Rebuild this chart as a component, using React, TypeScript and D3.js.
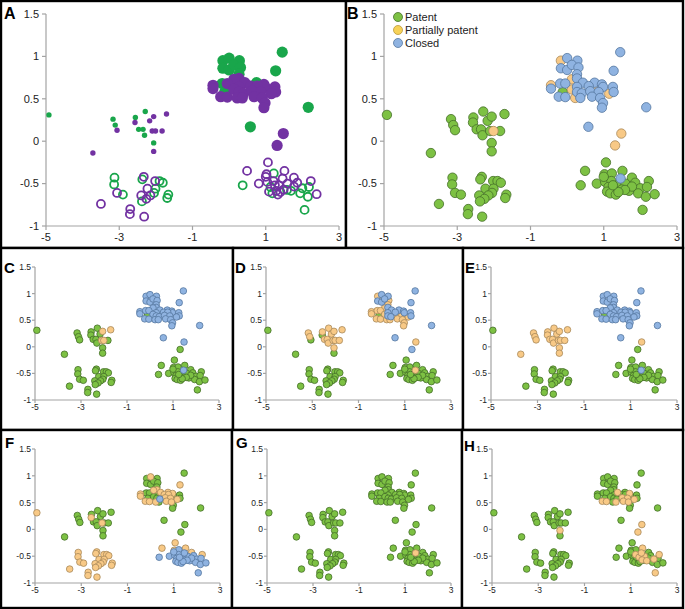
import React from 'react';
import * as d3 from 'd3';

type Row = [number, number, string, string];

// [x, y, panel-A group (g = green, p = purple), status in panels B..H (P patent, T partially patent, C closed)]
const upperLeft: Row[] = [
  [-4.92, 0.31, 'g', 'PPPPTPP'],
  [-3.72, -0.14, 'p', 'PPPTPPP'],
  [-3.17, 0.26, 'g', 'PPTTPPP'],
  [-3.11, 0.19, 'g', 'PPTTPPP'],
  [-3.06, 0.13, 'p', 'PPPTPPP'],
  [-2.29, 0.35, 'g', 'PPTTPPP'],
  [-2.56, 0.28, 'g', 'PPTTPPP'],
  [-2.57, 0.22, 'p', 'PPPTTPP'],
  [-2.47, 0.14, 'g', 'PPTTPPP'],
  [-2.35, 0.14, 'g', 'PPTTPPP'],
  [-2.31, 0.07, 'g', 'PPTTPPP'],
  [-2.17, 0.24, 'p', 'PPTTPPP'],
  [-2.06, 0.29, 'p', 'PTTTPPP'],
  [-1.71, 0.32, 'p', 'PTTTPPP'],
  [-2.1, 0.12, 'p', 'PTTTTPP'],
  [-2.01, 0.12, 'p', 'TTTTPPP'],
  [-1.83, 0.12, 'p', 'PPTTPPP'],
  [-2.06, -0.02, 'g', 'PPTTPPT'],
  [-2.06, -0.12, 'p', 'PPPTPPP'],
];

const lowerLeft: Row[] = [
  [-3.13, -0.43, 'g', 'PPPPTPP'],
  [-3.14, -0.51, 'g', 'PPPPTPP'],
  [-3.06, -0.61, 'p', 'PPPPTPP'],
  [-2.9, -0.63, 'g', 'PPPPTPP'],
  [-3.5, -0.74, 'p', 'PPPPTPP'],
  [-2.7, -0.8, 'p', 'PPPPTPP'],
  [-2.71, -0.86, 'p', 'PPPPTPP'],
  [-2.32, -0.89, 'p', 'PPPPTPP'],
  [-2.33, -0.42, 'p', 'PPPPTPP'],
  [-2.37, -0.45, 'g', 'PPPPTPP'],
  [-2.02, -0.47, 'p', 'PPPPTPP'],
  [-1.9, -0.47, 'g', 'PPPPTPP'],
  [-1.81, -0.49, 'g', 'PPPPTPP'],
  [-2.23, -0.56, 'p', 'PPPPTPP'],
  [-2.01, -0.56, 'g', 'PPPPTPP'],
  [-2.05, -0.61, 'g', 'PPPPTPP'],
  [-2.4, -0.64, 'p', 'PPPPTPP'],
  [-2.15, -0.64, 'p', 'PPPPTPP'],
  [-2.26, -0.68, 'p', 'PPPPTPP'],
  [-2.38, -0.71, 'g', 'PPPPTPP'],
  [-1.66, -0.63, 'g', 'PPPPTPP'],
  [-1.69, -0.67, 'g', 'PPPPTPP'],
];

const upperRight: Row[] = [
  [1.45, 1.05, 'g', 'CCCCPPP'],
  [1.27, 0.83, 'g', 'CCCCTPP'],
  [2.16, 0.4, 'g', 'CCCCPPP'],
  [0.58, 0.17, 'g', 'CCCCPPP'],
  [1.48, 0.09, 'p', 'TCTTPPT'],
  [1.31, -0.05, 'p', 'TPCPPPT'],
  [-0.17, 0.95, 'g', 'TCTCPPP'],
  [0.0, 0.98, 'g', 'CCCCTPP'],
  [0.28, 0.95, 'g', 'CCCCPPP'],
  [-0.17, 0.86, 'g', 'CCCCPPP'],
  [0.0, 0.84, 'g', 'CCCCPPP'],
  [0.13, 0.9, 'g', 'CCCCPPP'],
  [0.31, 0.87, 'g', 'CCTCPPP'],
  [0.27, 0.79, 'g', 'CCTCPPP'],
  [0.27, 0.74, 'p', 'CCCCTPP'],
  [0.13, 0.73, 'p', 'TCTCTPP'],
  [-0.44, 0.66, 'p', 'TCTCTPP'],
  [-0.44, 0.62, 'p', 'CCTCTPP'],
  [-0.19, 0.68, 'g', 'CCTCPPP'],
  [-0.05, 0.68, 'p', 'CCTCPPP'],
  [0.43, 0.69, 'p', 'CCCCTPT'],
  [0.27, 0.64, 'p', 'CCCCPPP'],
  [0.75, 0.69, 'g', 'CCCCTPP'],
  [0.95, 0.67, 'p', 'CCCCTPT'],
  [0.98, 0.64, 'p', 'CCCCPPP'],
  [1.25, 0.64, 'p', 'CCCCPPP'],
  [0.59, 0.65, 'p', 'CCCCTPP'],
  [0.77, 0.65, 'p', 'TCTCTPP'],
  [-0.12, 0.58, 'g', 'PPPPPPP'],
  [0.13, 0.61, 'p', 'TCTCPPP'],
  [0.27, 0.58, 'p', 'CCCCPPP'],
  [0.4, 0.565, 'p', 'CCCCCPP'],
  [0.63, 0.59, 'p', 'CCTCTPT'],
  [0.86, 0.58, 'p', 'CCTCTPT'],
  [1.27, 0.58, 'p', 'CCCCPPP'],
  [1.15, 0.56, 'p', 'TCTCTPT'],
  [-0.23, 0.525, 'p', 'CCTCTPT'],
  [-0.05, 0.52, 'p', 'CCTCTPT'],
  [0.22, 0.51, 'p', 'TCTCTPP'],
  [0.36, 0.51, 'p', 'CCTCPPT'],
  [0.68, 0.525, 'p', 'CCTCTPT'],
  [0.9, 0.51, 'p', 'CCTCTPT'],
  [0.98, 0.45, 'p', 'CCTCPPP'],
  [0.95, 0.395, 'p', 'CCTCPPP'],
];

const lowerRight: Row[] = [
  [1.06, -0.25, 'p', 'PPPPTPP'],
  [0.49, -0.35, 'p', 'PPPPTPP'],
  [0.37, -0.52, 'g', 'PPPPCPP'],
  [0.81, -0.5, 'p', 'PPPPCPP'],
  [1.02, -0.39, 'p', 'PPPPTPP'],
  [1.22, -0.38, 'g', 'PPPPCPP'],
  [1.51, -0.35, 'p', 'PPPPTPT'],
  [1.77, -0.43, 'p', 'PPPPTPP'],
  [2.23, -0.47, 'p', 'PPPPTPT'],
  [1.04, -0.48, 'p', 'PPPPCPP'],
  [1.21, -0.47, 'p', 'PPPPCPT'],
  [1.13, -0.54, 'g', 'PPPPCPP'],
  [1.36, -0.52, 'p', 'PPPPCPT'],
  [1.59, -0.5, 'p', 'PPPPCPT'],
  [1.86, -0.49, 'p', 'PPPPCPP'],
  [1.09, -0.595, 'p', 'PPPPCPP'],
  [1.29, -0.585, 'p', 'PPPPCPP'],
  [1.49, -0.57, 'p', 'PPPPCPT'],
  [1.69, -0.585, 'g', 'PPPPCPT'],
  [2.0, -0.555, 'g', 'PPPPCPT'],
  [2.18, -0.54, 'g', 'PPPPCPP'],
  [1.18, -0.615, 'g', 'PPPPCPP'],
  [1.33, -0.63, 'p', 'PPPPCPP'],
  [1.94, -0.615, 'g', 'PPPPCPP'],
  [2.15, -0.655, 'g', 'PPPPCPP'],
  [2.39, -0.625, 'p', 'PPPPCPP'],
  [2.06, -0.81, 'g', 'PPPPCPT'],
  [1.0, -0.42, 'p', 'PPPPCPP'],
  [1.77, -0.535, 'p', 'PPPPCPP'],
  [1.58, -0.575, 'g', 'PPPPCPP'],
  [1.4, -0.6, 'p', 'PPPPCPP'],
  [1.25, -0.52, 'p', 'PPPPCPP'],
  [1.46, -0.44, 'p', 'CCTCCTT'],
];

const xTicks = [-5, -3, -1, 1, 3];
const yTicks = [-1, -0.5, 0, 0.5, 1, 1.5];
const statusCodes = ['P', 'T', 'C'];
const statusNames = ['Patent', 'Partially patent', 'Closed'];
const statusPanels = ['B', 'C', 'D', 'E', 'F', 'G', 'H'];

const STATUS_STYLE: Record<string, { fill: string; stroke: string }> = {
  P: { fill: '#7dc143', stroke: '#456f2a' },
  T: { fill: '#f8c986', stroke: '#a8895a' },
  C: { fill: '#8fb3e1', stroke: '#55779f' },
};
const GROUP_COLOR: Record<string, string> = { g: '#19a64b', p: '#7232a2' };

type Pt = { x: number; y: number; g: string; s: string; kind: string };
const points: Pt[] = [
  ...upperLeft.map((r) => ({ x: r[0], y: r[1], g: r[2], s: r[3], kind: 'small' })),
  ...upperRight.map((r) => ({ x: r[0], y: r[1], g: r[2], s: r[3], kind: 'big' })),
  ...lowerLeft.map((r) => ({ x: r[0], y: r[1], g: r[2], s: r[3], kind: 'open' })),
  ...lowerRight.map((r) => ({ x: r[0], y: r[1], g: r[2], s: r[3], kind: 'open' })),
];

type Layout = {
  key: string;
  frame: [number, number, number, number];
  x0: number; x1: number; yT: number; yB: number;
  lx: number; ly: number;
  font: number; tick: number; labGap: number; labDy: number; r: number; letter: number;
};

const layouts: Layout[] = [
  { key: 'A', frame: [1, 1, 345, 247], x0: 46, x1: 339, yT: 14, yB: 226, lx: 4, ly: 19, font: 11, tick: 4, labGap: 7, labDy: 15, r: 4.7, letter: 16 },
  { key: 'B', frame: [346, 1, 337, 247], x0: 384, x1: 677, yT: 14, yB: 226, lx: 347, ly: 19, font: 11, tick: 4, labGap: 7, labDy: 15, r: 4.7, letter: 16 },
  { key: 'C', frame: [1, 248, 232, 182], x0: 35, x1: 219, yT: 267, yB: 400, lx: 4, ly: 273, font: 8.5, tick: 3, labGap: 4, labDy: 10, r: 3.3, letter: 15 },
  { key: 'D', frame: [233, 248, 230, 182], x0: 266, x1: 451, yT: 267, yB: 400, lx: 235, ly: 273, font: 8.5, tick: 3, labGap: 4, labDy: 10, r: 3.3, letter: 15 },
  { key: 'E', frame: [463, 248, 220, 182], x0: 491, x1: 677, yT: 267, yB: 400, lx: 465, ly: 273, font: 8.5, tick: 3, labGap: 4, labDy: 10, r: 3.3, letter: 15 },
  { key: 'F', frame: [1, 430, 231, 178], x0: 35, x1: 220, yT: 449, yB: 583, lx: 5, ly: 448, font: 8.5, tick: 3, labGap: 4, labDy: 10, r: 3.3, letter: 15 },
  { key: 'G', frame: [232, 430, 230, 178], x0: 267, x1: 451, yT: 449, yB: 583, lx: 236, ly: 448, font: 8.5, tick: 3, labGap: 4, labDy: 10, r: 3.3, letter: 15 },
  { key: 'H', frame: [462, 430, 221, 178], x0: 492, x1: 677, yT: 449, yB: 583, lx: 464, ly: 451, font: 8.5, tick: 3, labGap: 4, labDy: 10, r: 3.3, letter: 15 },
];

const FONT = 'Arial, "Liberation Sans", Helvetica, sans-serif';
const fmt = (v: number) => String(v);

function Panel({ L }: { L: Layout }) {
  const xs = d3.scaleLinear().domain([-5, 3]).range([L.x0, L.x1]);
  const ys = d3.scaleLinear().domain([-1, 1.5]).range([L.yB, L.yT]);
  const axisColor = '#a3a3a3';
  let marks: React.ReactNode[] = [];
  if (L.key === 'A') {
    const ordered = [...points.filter((p) => p.g === 'g'), ...points.filter((p) => p.g === 'p')];
    marks = ordered.map((p, i) => {
      const c = GROUP_COLOR[p.g];
      if (p.kind === 'big') return <circle key={i} cx={xs(p.x)} cy={ys(p.y)} r={5.6} fill={c} />;
      if (p.kind === 'small') return <circle key={i} cx={xs(p.x)} cy={ys(p.y)} r={2.7} fill={c} />;
      return <circle key={i} cx={xs(p.x)} cy={ys(p.y)} r={4.0} fill="none" stroke={c} strokeWidth={1.8} />;
    });
  } else {
    const idx = statusPanels.indexOf(L.key);
    const ordered = statusCodes.flatMap((code) => points.filter((p) => p.s[idx] === code));
    marks = ordered.map((p, i) => {
      const st = STATUS_STYLE[p.s[idx]];
      return (
        <circle key={i} cx={xs(p.x)} cy={ys(p.y)} r={L.r} fill={st.fill} stroke={st.stroke} strokeWidth={0.8} />
      );
    });
  }
  const [fx, fy, fw, fh] = L.frame;
  return (
    <g>
      <rect x={fx} y={fy} width={fw} height={fh} fill="white" stroke="black" strokeWidth={2.4} />
      <line x1={L.x0} x2={L.x0} y1={ys(1.5)} y2={ys(-1)} stroke={axisColor} strokeWidth={1.2} />
      <line x1={L.x0} x2={L.x1} y1={ys(-1)} y2={ys(-1)} stroke={axisColor} strokeWidth={1.2} />
      {yTicks.map((t) => (
        <g key={'y' + t}>
          <line x1={L.x0 - L.tick} x2={L.x0} y1={ys(t)} y2={ys(t)} stroke={axisColor} strokeWidth={1.2} />
          <text x={L.x0 - L.labGap} y={ys(t)} dy="0.35em" textAnchor="end" fontSize={L.font} fontFamily={FONT} fill="#222">
            {fmt(t)}
          </text>
        </g>
      ))}
      {xTicks.map((t) => (
        <g key={'x' + t}>
          <line x1={xs(t)} x2={xs(t)} y1={ys(-1)} y2={ys(-1) + L.tick} stroke={axisColor} strokeWidth={1.2} />
          <text x={xs(t)} y={ys(-1) + L.labDy} textAnchor="middle" fontSize={L.font} fontFamily={FONT} fill="#222">
            {fmt(t)}
          </text>
        </g>
      ))}
      {marks}
      <text x={L.lx} y={L.ly} fontSize={L.letter} fontWeight="bold" fontFamily={FONT} fill="#000">
        {L.key}
      </text>
      {L.key === 'B' && (
        <g>
          {statusNames.map((n, i) => (
            <g key={n}>
              <circle cx={398} cy={17 + i * 13} r={4.5}
                fill={i === 1 ? '#f7d257' : STATUS_STYLE[statusCodes[i]].fill}
                stroke={i === 1 ? '#b8983c' : STATUS_STYLE[statusCodes[i]].stroke} strokeWidth={0.8} />
              <text x={405} y={17 + i * 13} dy="0.35em" fontSize={11} fontFamily={FONT} fill="#222">
                {n}
              </text>
            </g>
          ))}
        </g>
      )}
    </g>
  );
}

export default function App() {
  return (
    <svg width={685} height={609} style={{ position: 'absolute', left: 0, top: 0, background: 'white' }}>
      <rect x={0} y={0} width={685} height={609} fill="white" />
      {layouts.map((L) => (
        <Panel key={L.key} L={L} />
      ))}
    </svg>
  );
}
